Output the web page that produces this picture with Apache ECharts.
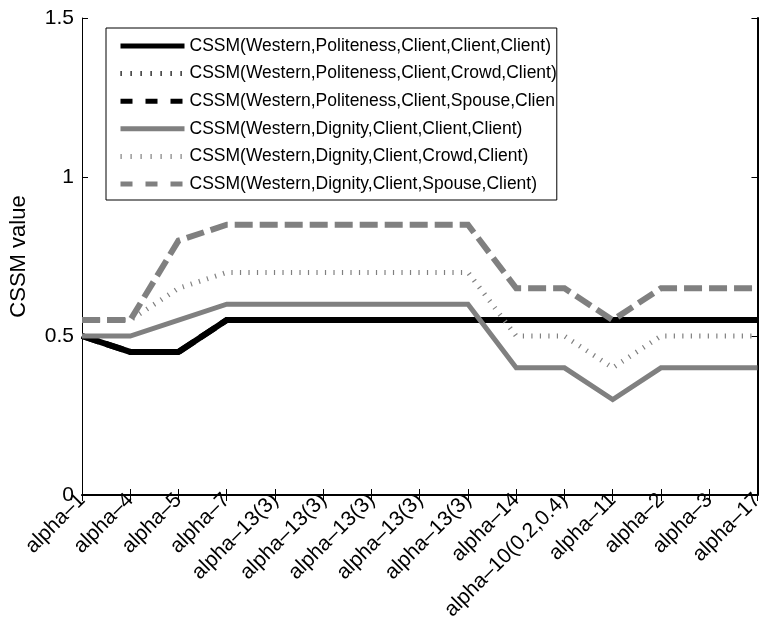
<!DOCTYPE html>
<html>
<head>
<meta charset="utf-8">
<script src="https://cdn.jsdelivr.net/npm/echarts@6/dist/echarts.min.js"></script>
<style>
html,body{margin:0;padding:0;background:#fff;}
#chart{width:767px;height:629px;}
</style>
</head>
<body>
<div id="chart"></div>
<script>
var categories = ['alpha–1','alpha–4','alpha–5','alpha–7','alpha–13(3)','alpha–13(3)','alpha–13(3)','alpha–13(3)','alpha–13(3)','alpha–14','alpha–10(0.2,0.4)','alpha–11','alpha–2','alpha–3','alpha–17'];
var seriesNames = [
  'CSSM(Western,Politeness,Client,Client,Client)',
  'CSSM(Western,Politeness,Client,Crowd,Client)',
  'CSSM(Western,Politeness,Client,Spouse,Client)',
  'CSSM(Western,Dignity,Client,Client,Client)',
  'CSSM(Western,Dignity,Client,Crowd,Client)',
  'CSSM(Western,Dignity,Client,Spouse,Client)'
];
var politenessClient = [0.5,0.45,0.45,0.55,0.55,0.55,0.55,0.55,0.55,0.55,0.55,0.55,0.55,0.55,0.55];
var politenessCrowd  = [0.5,0.45,0.45,0.55,0.55,0.55,0.55,0.55,0.55,0.55,0.55,0.55,0.55,0.55,0.55];
var politenessSpouse = [0.5,0.45,0.45,0.55,0.55,0.55,0.55,0.55,0.55,0.55,0.55,0.55,0.55,0.55,0.55];
var dignityClient = [0.5,0.5,0.55,0.6,0.6,0.6,0.6,0.6,0.6,0.4,0.4,0.3,0.4,0.4,0.4];
var dignityCrowd  = [0.55,0.55,0.65,0.7,0.7,0.7,0.7,0.7,0.7,0.5,0.5,0.4,0.5,0.5,0.5];
var dignitySpouse = [0.55,0.55,0.8,0.85,0.85,0.85,0.85,0.85,0.85,0.65,0.65,0.55,0.65,0.65,0.65];
var yTicks = [0, 0.5, 1, 1.5];

var FONT = '"Liberation Sans", Arial, Helvetica, sans-serif';
var BLACK = '#000000', GRAY = '#808080';
var DOT = [1.2, 7.3], DASH = [18, 7];
var LEG_DOT = [1.2, 8.8], LEG_DASH = [12, 13];

var dataSets = [politenessClient, politenessCrowd, politenessSpouse, dignityClient, dignityCrowd, dignitySpouse];
var colors = [BLACK, BLACK, BLACK, GRAY, GRAY, GRAY];
var types = ['solid', DOT, DASH, 'solid', DOT, DASH];
var widths = [6, 5, 6, 5, 5, 6];
var legTypes = ['solid', LEG_DOT, LEG_DASH, 'solid', LEG_DOT, LEG_DASH];

var series = dataSets.map(function (d, i) {
  return {
    name: seriesNames[i],
    type: 'line',
    data: d,
    xAxisIndex: 0,
    yAxisIndex: 0,
    symbol: 'none',
    showSymbol: false,
    silent: true,
    color: colors[i],
    lineStyle: { color: colors[i], width: widths[i], type: types[i], cap: 'butt', join: 'miter' },
    emphasis: { disabled: true }
  };
});

var chart = echarts.init(document.getElementById('chart'), null, { renderer: 'canvas' });
chart.setOption({
  animation: false,
  backgroundColor: '#ffffff',
  textStyle: { fontFamily: FONT },
  grid: { left: 80, right: 1, top: 18, bottom: 134, containLabel: false },
  legend: {
    orient: 'vertical',
    left: 106,
    top: 28,
    itemWidth: 64,
    itemHeight: 20,
    itemGap: 9.6,
    padding: [9, 0, 7, 12],
    borderColor: '#000',
    borderWidth: 1,
    backgroundColor: '#fff',
    selectedMode: false,
    itemStyle: { color: 'rgba(0,0,0,0)', borderColor: 'rgba(0,0,0,0)', borderWidth: 0, opacity: 0 },
    textStyle: { fontSize: 17.5, color: '#000', fontFamily: FONT, width: 371, overflow: 'truncate', ellipsis: '' },
    lineStyle: { width: 'inherit' },
    data: seriesNames.map(function (n, i) {
      return { name: n, lineStyle: { type: legTypes[i], width: 5 } };
    })
  },
  xAxis: [{
    type: 'category',
    data: categories,
    boundaryGap: false,
    axisLine: { lineStyle: { color: '#000', width: 2 } },
    axisTick: { show: true, inside: true, length: 6, interval: 0, lineStyle: { color: '#000', width: 1 } },
    axisLabel: { rotate: 45, interval: 0, fontSize: 21, color: '#000', margin: 2, fontFamily: FONT },
    splitLine: { show: false }
  }, {
    type: 'category',
    position: 'top',
    data: categories,
    boundaryGap: false,
    axisLine: { lineStyle: { color: '#000', width: 1 } },
    axisTick: { show: true, inside: true, length: 6, interval: 0, lineStyle: { color: '#000', width: 1 } },
    axisLabel: { show: false },
    splitLine: { show: false }
  }],
  yAxis: [{
    type: 'value',
    min: yTicks[0],
    max: yTicks[yTicks.length - 1],
    interval: 0.5,
    name: 'CSSM value',
    nameLocation: 'middle',
    nameGap: 52,
    nameTextStyle: { fontSize: 22, color: '#000', fontFamily: FONT },
    axisLine: { show: true, lineStyle: { color: '#000', width: 1 } },
    axisTick: { show: true, inside: true, length: 6, lineStyle: { color: '#000', width: 1 } },
    axisLabel: { fontSize: 21, color: '#000', margin: 8, fontFamily: FONT,
      formatter: function (v) { return String(v); } },
    splitLine: { show: false }
  }, {
    type: 'value',
    position: 'right',
    min: yTicks[0],
    max: yTicks[yTicks.length - 1],
    interval: 0.5,
    axisLine: { show: true, lineStyle: { color: '#000', width: 2 } },
    axisTick: { show: true, inside: true, length: 6, lineStyle: { color: '#000', width: 1 } },
    axisLabel: { show: false },
    splitLine: { show: false }
  }],
  series: series
});
</script>
</body>
</html>
